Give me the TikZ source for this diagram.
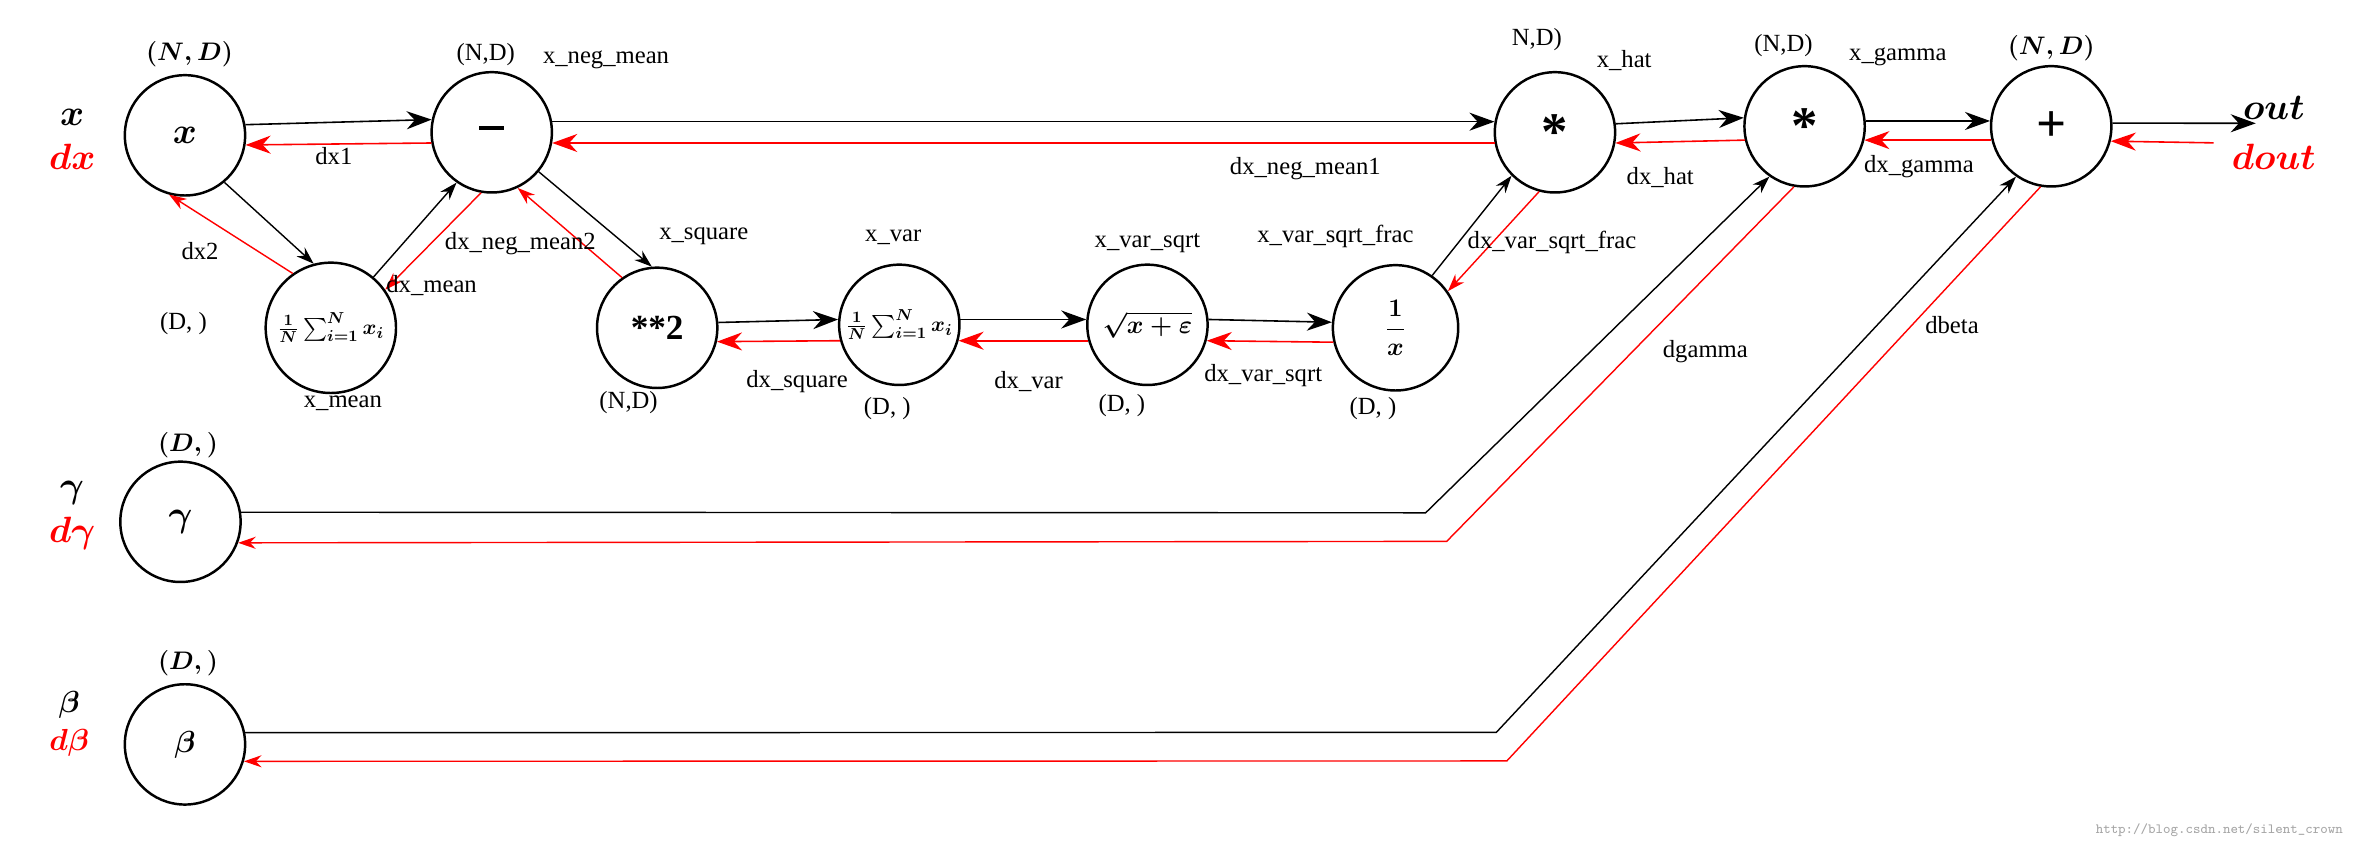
\documentclass[tikz,border=0pt]{standalone}
\usepackage{amsmath,amssymb,bm}
\usepackage{fontspec}
\setmainfont{Liberation Serif}
\usetikzlibrary{arrows.meta}

\tikzset{
  op/.style={circle, draw, line width=1.4pt, minimum size=2.4cm, inner sep=0pt, font=\fontsize{20}{22}\selectfont\bfseries\boldmath},
  big/.style={font=\fontsize{30}{32}\selectfont\bfseries},
  fw/.style={line width=0.9pt, -{Stealth[length=5mm,width=3.6mm]}},
  bw/.style={fw, red},
  fws/.style={line width=0.8pt, -{Stealth[length=3.5mm,width=2.4mm]}},
  bws/.style={fws, red},
  lbl/.style={font=\fontsize{14}{16}\selectfont},
  var/.style={font=\fontsize{20}{22}\selectfont\boldmath},
}

\begin{document}
\begin{tikzpicture}[x=0.03cm, y=-0.03cm]
  \useasboundingbox (0,0) rectangle (1568,568);

  \node[op]        (x)     at (123,90)  {$x$};
  \node[op]        (minus) at (327,88)  {\rule[0.5ex]{0.5cm}{2.5pt}};
  \node[op, minimum size=2.6cm, font=\fontsize{13}{14}\selectfont\boldmath] (mean) at (220,218) {$\frac{1}{N}\sum_{i=1}^{N}x_i$};
  \node[op]        (sq)    at (437,218) {**2};
  \node[op, font=\fontsize{13}{14}\selectfont\boldmath] (var) at (598,216) {$\frac{1}{N}\sum_{i=1}^{N}x_i$};
  \node[op, font=\fontsize{15}{16}\selectfont\boldmath] (sqrt) at (763,216) {$\sqrt{x+\varepsilon}$};
  \node[op, minimum size=2.5cm, font=\fontsize{15}{16}\selectfont\boldmath] (frac) at (928,218) {$\dfrac{1}{x}$};
  \node[op, big]   (mul1)  at (1034,88) {*};
  \node[op, big]   (mul2)  at (1200,84) {*};
  \node[op, big]   (plus)  at (1364,84) {+};
  \node[op]        (gamma) at (120,347) {$\gamma$};
  \node[op, font=\fontsize{16}{18}\selectfont\boldmath] (beta) at (123,495) {$\beta$};

  \coordinate (outp) at (1500,82);
  \coordinate (dinp) at (1472,95);
  \coordinate (gk) at (948,341);
  \coordinate (rk) at (962,360);
  \coordinate (bk) at (995,487);
  \coordinate (rb) at (1002,506);

  % forward
  \draw[fw] (x.10) -- (minus.168);
  \draw[fws] (x.-50) -- (mean.105);
  \draw[fws] (mean.50) -- (minus.-125);
  \draw[fws] (minus.-40) -- (sq.95);
  \draw[fw] (minus.10) -- (mul1.170);
  \draw[fw] (sq.5) -- (var.175);
  \draw[fw] (var.5) -- (sqrt.175);
  \draw[fw] (sqrt.5) -- (frac.175);
  \draw[fws] (frac.55) -- (mul1.-135);
  \draw[fw] (mul1.8) -- (mul2.172);
  \draw[fw] (mul2.5) -- (plus.175);
  \draw[fw] (plus.3) -- (outp);
  \draw[fws] (gamma.9) -- (gk) -- (mul2.-125);
  \draw[fws] (beta.11) -- (bk) -- (plus.-125);

  % backward
  \draw[bw] (minus.190) -- (x.-9);
  \draw[bws] (mean.125) -- (x.-105);
  \draw[bws] (minus.-100) -- (mean.35);
  \draw[bws] (sq.125) -- (minus.-65);
  \draw[bw] (mul1.190) -- (minus.-10);
  \draw[bw] (var.195) -- (sq.-13);
  \draw[bw] (sqrt.195) -- (var.-15);
  \draw[bw] (frac.193) -- (sqrt.-15);
  \draw[bws] (mul1.-105) -- (frac.35);
  \draw[bw] (mul2.193) -- (mul1.-10);
  \draw[bw] (plus.193) -- (mul2.-13);
  \draw[bw] (dinp) -- (plus.-14);
  \draw[bws] (mul2.-100) -- (rk) -- (gamma.-20);
  \draw[bws] (plus.-100) -- (rb) -- (beta.-16);

  % side texts
  \node[var] (tx) at (48,78) {$\bm{x}$};
  \node[var, red] (tdx) at (48,104) {$\bm{dx}$};
  \node[var] (tg) at (48,328) {$\gamma$};
  \node[var, red] (tdg) at (48,355) {$\bm{d\gamma}$};
  \node[var, font=\fontsize{16}{18}\selectfont\boldmath] (tb) at (46,469) {$\beta$};
  \node[var, red, font=\fontsize{16}{18}\selectfont\boldmath] (tdb) at (46,494) {$\bm{d\beta}$};
  \node[var] (tout) at (1512,72) {$\bm{out}$};
  \node[var, red] (tdout) at (1512,104) {$\bm{dout}$};

  % shapes
  \node[lbl, font=\fontsize{14}{16}\selectfont\boldmath] (sx) at (126,36) {$(\bm{N},\bm{D})$};
  \node[lbl] (sminus) at (323,36) {(N,D)};
  \node[lbl] (smean) at (122,215) {(D,~)};
  \node[lbl] (ssq) at (418,268) {(N,D)};
  \node[lbl] (svar) at (590,272) {(D,~)};
  \node[lbl] (ssqrt) at (746,270) {(D,~)};
  \node[lbl] (sfrac) at (913,272) {(D,~)};
  \node[lbl] (smul1) at (1022,26) {N,D)};
  \node[lbl] (smul2) at (1186,30) {(N,D)};
  \node[lbl, font=\fontsize{14}{16}\selectfont\boldmath] (splus) at (1364,32) {$(\bm{N},\bm{D})$};
  \node[lbl, font=\fontsize{14}{16}\selectfont\boldmath] (sgamma) at (125,296) {$(\bm{D},)$};
  \node[lbl, font=\fontsize{14}{16}\selectfont\boldmath] (sbeta) at (125,441) {$(\bm{D},)$};

  % edge names
  \node[lbl] (lnm) at (403,40) {x\_neg\_mean};
  \node[lbl] (ldx1) at (222,104) {dx1};
  \node[lbl] (ldx2) at (133,167) {dx2};
  \node[lbl] (lmean) at (228,268) {x\_mean};
  \node[lbl] (ldmean) at (287,190) {dx\_mean};
  \node[lbl] (ldnm2) at (346,162) {dx\_neg\_mean2};
  \node[lbl] (lsq) at (468,157) {x\_square};
  \node[lbl] (ldsq) at (530,254) {dx\_square};
  \node[lbl] (lvar) at (594,158) {x\_var};
  \node[lbl] (ldvar) at (684,254) {dx\_var};
  \node[lbl] (lsqrt) at (763,162) {x\_var\_sqrt};
  \node[lbl] (ldsqrt) at (840,250) {dx\_var\_sqrt};
  \node[lbl] (lfrac) at (888,157) {x\_var\_sqrt\_frac};
  \node[lbl] (ldfrac) at (1032,161) {dx\_var\_sqrt\_frac};
  \node[lbl] (lhat) at (1080,40) {x\_hat};
  \node[lbl] (ldnm1) at (868,112) {dx\_neg\_mean1};
  \node[lbl] (ldhat) at (1104,118) {dx\_hat};
  \node[lbl] (lgam) at (1262,38) {x\_gamma};
  \node[lbl] (ldgam) at (1276,111) {dx\_gamma};
  \node[lbl] (ldg) at (1134,234) {dgamma};
  \node[lbl] (ldb) at (1298,216) {dbeta};

  \node[font=\ttfamily\fontsize{8}{9}\selectfont, gray!70, anchor=east] (wm) at (1562,552) {http://blog.csdn.net/silent\_crown};
\end{tikzpicture}
\end{document}
